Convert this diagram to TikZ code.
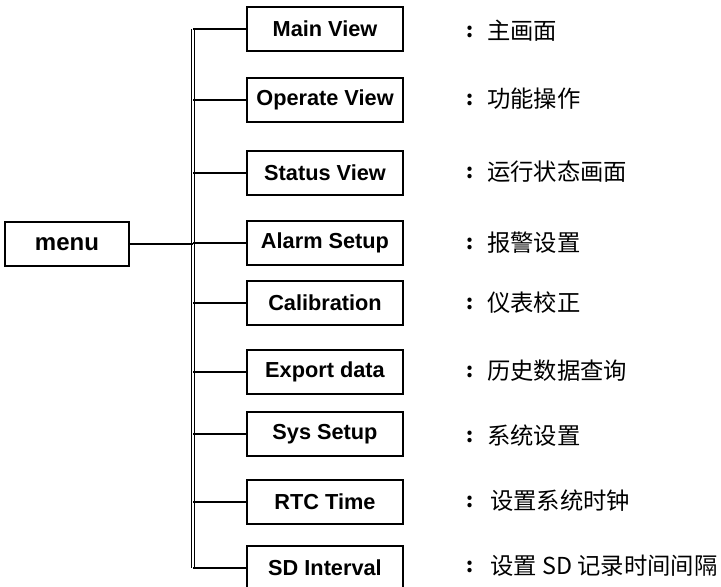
\documentclass[tikz,border=0pt]{standalone}
\usepackage{fontspec}
\setmainfont{Liberation Sans}
\newfontfamily\cjk{Noto Sans CJK SC}
\usetikzlibrary{positioning}

\tikzset{
    item/.style={draw, line width=1.4pt, minimum width=117pt, minimum height=33pt,
        inner sep=0pt, font=\fontsize{16.3}{19}\selectfont\bfseries},
    menubox/.style={draw, line width=1.4pt, minimum width=93pt, minimum height=33pt,
        inner sep=0pt, font=\fontsize{18}{21}\selectfont\bfseries},
    branch/.style={line width=1.5pt},
    colon/.style={font=\cjk\fontsize{15}{17}\selectfont\bfseries, inner sep=0pt},
    note/.style={anchor=west, font=\cjk\fontsize{17.5}{20}\selectfont, inner sep=0pt}
}

\begin{document}
\begin{tikzpicture}[x=0.75pt, y=-0.75pt]
    % Frame of the picture
    \useasboundingbox (0,0) rectangle (721,586);
    \clip (0,0) rectangle (721,586);

    % Root
    \node[menubox] (menu) at (67,244) {menu};

    % Menu entries
    \node[item] (main)   at (325,29)  {Main View};
    \node[item] (oper)   at (325,100) {Operate View};
    \node[item] (status) at (325,173) {Status View};
    \node[item] (alarm)  at (325,243) {Alarm Setup};
    \node[item] (calib)  at (325,303) {Calibration};
    \node[item] (export) at (325,372) {Export data};
    \node[item] (sys)    at (325,434) {Sys Setup};
    \node[item] (rtc)    at (325,502) {RTC Time};
    \node[item] (sd)     at (325,568) {SD Interval};

    % Vertical bus
    \coordinate (bus) at (193,0);
    \draw[line width=1pt, double, double distance=1.2pt]
        (bus |- main.west) -- (bus |- sd.west);
    \draw[branch] (menu.east) -- (bus |- menu.east);

    % Branches to each entry
    \foreach \n in {main, oper, status, alarm, calib, export, sys, rtc, sd}
        \draw[branch] (bus |- \n.west) -- (\n.west);

    % Notes
    \node[colon] (c1) at (470,32)  {:};
    \node[note]  (n1) at (487,31)  {主画面};
    \node[colon] (c2) at (470,100) {:};
    \node[note]  (n2) at (487,99)  {功能操作};
    \node[colon] (c3) at (470,173) {:};
    \node[note]  (n3) at (487,172) {运行状态画面};
    \node[colon] (c4) at (470,244) {:};
    \node[note]  (n4) at (487,243) {报警设置};
    \node[colon] (c5) at (470,304) {:};
    \node[note]  (n5) at (487,303) {仪表校正};
    \node[colon] (c6) at (470,372) {:};
    \node[note]  (n6) at (487,371) {历史数据查询};
    \node[colon] (c7) at (470,437) {:};
    \node[note]  (n7) at (487,436) {系统设置};
    \node[colon] (c8) at (470,502) {:};
    \node[note]  (n8) at (490,501) {设置系统时钟};
    \node[colon] (c9) at (470,567) {:};
    \node[note]  (n9) at (490,566) {设置 SD 记录时间间隔};

\end{tikzpicture}
\end{document}
